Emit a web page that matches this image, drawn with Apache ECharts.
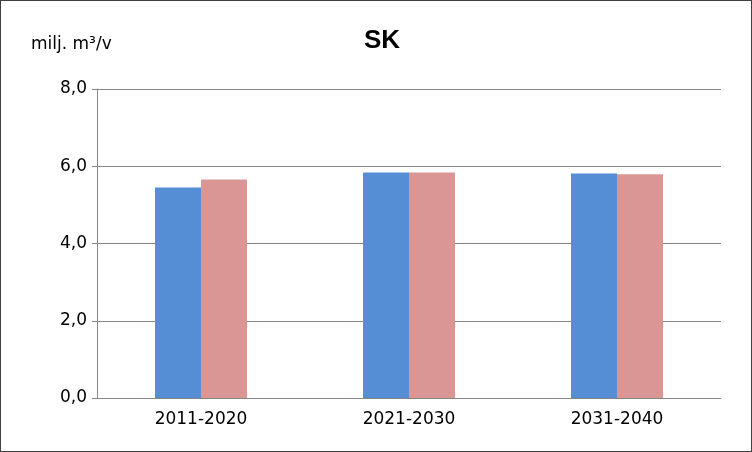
<!DOCTYPE html><html><head><meta charset="utf-8"><script src="https://cdn.jsdelivr.net/npm/echarts@6/dist/echarts.min.js"></script>
<style>html,body{margin:0;padding:0;background:#fff}#c{width:752px;height:452px;box-sizing:border-box;border:1px solid #404040}</style></head><body><div id="c"></div><script>
const categories=["2011-2020","2021-2030","2031-2040"];
const seriesA=[5.45,5.84,5.81];
const seriesB=[5.66,5.84,5.79];
const yTicks=[0,2,4,6,8];
const chart=echarts.init(document.getElementById('c'));
chart.setOption({
 animation:false,
 title:{text:'SK',left:376,top:22,textAlign:'center',textStyle:{fontFamily:'Liberation Sans, Arial',fontSize:26,fontWeight:'bold',color:'#000'}},
 graphic:[{type:'text',left:30,top:35,style:{text:'milj. m³/v',font:'17px "DejaVu Sans", Arial',fill:'#000'}}],
 grid:{left:96,right:30,top:88,bottom:53},
 xAxis:{type:'category',data:categories,axisTick:{show:false},axisLine:{lineStyle:{color:'#868686'}},axisLabel:{color:'#000',fontSize:17,fontFamily:'DejaVu Sans',margin:13}},
 yAxis:{type:'value',min:yTicks[0],max:yTicks[yTicks.length-1],interval:2,axisLine:{show:true,lineStyle:{color:'#868686'}},axisTick:{show:true,length:5,lineStyle:{color:'#868686'}},splitLine:{lineStyle:{color:'#868686'}},axisLabel:{color:'#000',fontSize:17,fontFamily:'DejaVu Sans',margin:10,formatter:v=>v.toFixed(1).replace('.',',')}},
 series:[
  {type:'bar',data:seriesA,barWidth:46,barGap:'0%',itemStyle:{color:'#558ED5'}},
  {type:'bar',data:seriesB,barWidth:46,itemStyle:{color:'#D99694'}}
 ]
});
</script></body></html>
